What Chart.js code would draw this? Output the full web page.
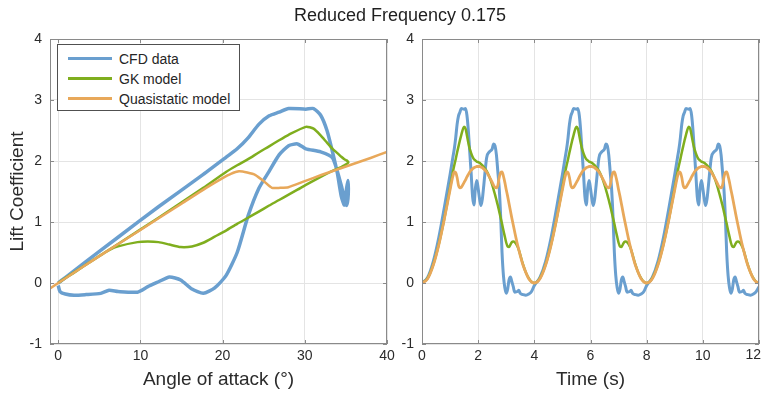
<!DOCTYPE html>
<html>
<head>
<meta charset="utf-8">
<title>Reduced Frequency 0.175</title>
<script src="https://cdn.jsdelivr.net/npm/chart.js@4.4.1/dist/chart.umd.min.js"></script>
<style>
  body { margin: 0; background: #fff; }
  #wrap { position: relative; width: 761px; height: 393px; font-family: "Liberation Sans", Arial, sans-serif; color: #262626; }
  #wrap canvas { position: absolute; left: 0; top: 0; }
  #title { position: absolute; left: 250px; width: 300px; top: 5px; line-height: 20px; font-size: 18px; text-align: center; color: #1f1f1f; }
  #legend { position: absolute; left: 57px; top: 44px; width: 181px; height: 65px; border: 1px solid #505050; background: #fff; font-size: 14px; }
  #legend .row { position: absolute; left: 0; height: 20px; line-height: 20px; white-space: nowrap; }
  #legend .swatch { position: absolute; left: 10px; top: 8px; width: 44px; height: 3px; }
  #legend .label { position: absolute; left: 61px; top: 0; }
</style>
</head>
<body>
<div id="wrap">
  <canvas id="aoaChart" width="761" height="393"></canvas>
  <canvas id="timeChart" width="761" height="393"></canvas>
  <div id="title">Reduced Frequency 0.175</div>
  <div id="legend"></div>
</div>
<script>
// Time series, three pitching cycles (s)
const timeS = [
    0, 0.2, 0.4, 0.6, 0.8, 1, 1.1, 1.15, 1.2, 1.25, 1.3, 1.35, 1.4, 1.5, 1.55, 1.6, 1.65, 1.7, 1.75, 1.8,
    1.85, 1.9, 1.95, 2, 2.05, 2.1, 2.15, 2.2, 2.3, 2.4, 2.5, 2.55, 2.6, 2.65, 2.7, 2.75, 2.8, 2.85, 2.9, 2.95,
    3, 3.05, 3.1, 3.15, 3.2, 3.25, 3.3, 3.4, 3.45, 3.5, 3.6, 3.7, 3.8, 3.9,
    4, 4.2, 4.4, 4.6, 4.8, 5, 5.1, 5.15, 5.2, 5.25, 5.3, 5.35, 5.4, 5.5, 5.55, 5.6, 5.65, 5.7, 5.75, 5.8,
    5.85, 5.9, 5.95, 6, 6.05, 6.1, 6.15, 6.2, 6.3, 6.4, 6.5, 6.55, 6.6, 6.65, 6.7, 6.75, 6.8, 6.85, 6.9, 6.95,
    7, 7.05, 7.1, 7.15, 7.2, 7.25, 7.3, 7.4, 7.45, 7.5, 7.6, 7.7, 7.8, 7.9,
    8, 8.2, 8.4, 8.6, 8.8, 9, 9.1, 9.15, 9.2, 9.25, 9.3, 9.35, 9.4, 9.5, 9.55, 9.6, 9.65, 9.7, 9.75, 9.8,
    9.85, 9.9, 9.95, 10, 10.05, 10.1, 10.15, 10.2, 10.3, 10.4, 10.5, 10.55, 10.6, 10.65, 10.7, 10.75, 10.8, 10.85, 10.9, 10.95,
    11, 11.05, 11.1, 11.15, 11.2, 11.25, 11.3, 11.4, 11.45, 11.5, 11.6, 11.7, 11.8, 11.9,
    12
];

const cfdCl = [
    0, 0.09, 0.35, 0.75, 1.25, 1.78, 2.06, 2.2, 2.38, 2.6, 2.74, 2.8, 2.86, 2.85, 2.86, 2.75, 2.5, 2.15, 1.8, 1.42,
    1.28, 1.55, 1.68, 1.55, 1.38, 1.27, 1.38, 1.6, 2.05, 2.15, 2.2, 2.28, 2.25, 2.1, 1.83, 1.55, 1.1, 0.5, 0.12, -0.08,
    -0.17, -0.1, 0.05, 0.1, 0.02, -0.06, -0.15, -0.14, -0.12, -0.17, -0.19, -0.2, -0.18, -0.14,
    -0.04, 0.09, 0.35, 0.75, 1.25, 1.78, 2.06, 2.2, 2.38, 2.6, 2.74, 2.8, 2.86, 2.85, 2.86, 2.75, 2.5, 2.15, 1.8, 1.42,
    1.28, 1.55, 1.68, 1.55, 1.38, 1.27, 1.38, 1.6, 2.05, 2.15, 2.2, 2.28, 2.25, 2.1, 1.83, 1.55, 1.1, 0.5, 0.12, -0.08,
    -0.17, -0.1, 0.05, 0.1, 0.02, -0.06, -0.15, -0.14, -0.12, -0.17, -0.19, -0.2, -0.18, -0.14,
    -0.04, 0.09, 0.35, 0.75, 1.25, 1.78, 2.06, 2.2, 2.38, 2.6, 2.74, 2.8, 2.86, 2.85, 2.86, 2.75, 2.5, 2.15, 1.8, 1.42,
    1.28, 1.55, 1.68, 1.55, 1.38, 1.27, 1.38, 1.6, 2.05, 2.15, 2.2, 2.28, 2.25, 2.1, 1.83, 1.55, 1.1, 0.5, 0.12, -0.08,
    -0.17, -0.1, 0.05, 0.1, 0.02, -0.06, -0.15, -0.14, -0.12, -0.17, -0.19, -0.2, -0.18, -0.14,
    -0.06
];

const gkCl = [
    0, 0.08, 0.3, 0.64, 1.07, 1.56, 1.82, 1.93, 2.03, 2.14, 2.24, 2.34, 2.43, 2.56, 2.53, 2.42, 2.3, 2.2, 2.13, 2.07,
    2.03, 2.01, 1.99, 1.98, 1.97, 1.95, 1.93, 1.9, 1.84, 1.74, 1.61, 1.53, 1.45, 1.36, 1.27, 1.17, 1.07, 0.97, 0.86, 0.76,
    0.66, 0.6, 0.59, 0.63, 0.67, 0.68, 0.67, 0.6, 0.54, 0.46, 0.3, 0.17, 0.08, 0.02,
    0, 0.08, 0.3, 0.64, 1.07, 1.56, 1.82, 1.93, 2.03, 2.14, 2.24, 2.34, 2.43, 2.56, 2.53, 2.42, 2.3, 2.2, 2.13, 2.07,
    2.03, 2.01, 1.99, 1.98, 1.97, 1.95, 1.93, 1.9, 1.84, 1.74, 1.61, 1.53, 1.45, 1.36, 1.27, 1.17, 1.07, 0.97, 0.86, 0.76,
    0.66, 0.6, 0.59, 0.63, 0.67, 0.68, 0.67, 0.6, 0.54, 0.46, 0.3, 0.17, 0.08, 0.02,
    0, 0.08, 0.3, 0.64, 1.07, 1.56, 1.82, 1.93, 2.03, 2.14, 2.24, 2.34, 2.43, 2.56, 2.53, 2.42, 2.3, 2.2, 2.13, 2.07,
    2.03, 2.01, 1.99, 1.98, 1.97, 1.95, 1.93, 1.9, 1.84, 1.74, 1.61, 1.53, 1.45, 1.36, 1.27, 1.17, 1.07, 0.97, 0.86, 0.76,
    0.66, 0.6, 0.59, 0.63, 0.67, 0.68, 0.67, 0.6, 0.54, 0.46, 0.3, 0.17, 0.08, 0.02,
    0
];

const qsCl = [
    0, 0.07, 0.29, 0.63, 1.06, 1.53, 1.75, 1.82, 1.81, 1.73, 1.6, 1.56, 1.57, 1.65, 1.69, 1.74, 1.78, 1.82, 1.85, 1.87,
    1.89, 1.9, 1.91, 1.91, 1.91, 1.9, 1.89, 1.87, 1.82, 1.74, 1.65, 1.6, 1.57, 1.56, 1.6, 1.73, 1.81, 1.82, 1.75, 1.65,
    1.53, 1.42, 1.3, 1.18, 1.06, 0.95, 0.84, 0.63, 0.54, 0.45, 0.29, 0.17, 0.07, 0.02,
    0, 0.07, 0.29, 0.63, 1.06, 1.53, 1.75, 1.82, 1.81, 1.73, 1.6, 1.56, 1.57, 1.65, 1.69, 1.74, 1.78, 1.82, 1.85, 1.87,
    1.89, 1.9, 1.91, 1.91, 1.91, 1.9, 1.89, 1.87, 1.82, 1.74, 1.65, 1.6, 1.57, 1.56, 1.6, 1.73, 1.81, 1.82, 1.75, 1.65,
    1.53, 1.42, 1.3, 1.18, 1.06, 0.95, 0.84, 0.63, 0.54, 0.45, 0.29, 0.17, 0.07, 0.02,
    0, 0.07, 0.29, 0.63, 1.06, 1.53, 1.75, 1.82, 1.81, 1.73, 1.6, 1.56, 1.57, 1.65, 1.69, 1.74, 1.78, 1.82, 1.85, 1.87,
    1.89, 1.9, 1.91, 1.91, 1.91, 1.9, 1.89, 1.87, 1.82, 1.74, 1.65, 1.6, 1.57, 1.56, 1.6, 1.73, 1.81, 1.82, 1.75, 1.65,
    1.53, 1.42, 1.3, 1.18, 1.06, 0.95, 0.84, 0.63, 0.54, 0.45, 0.29, 0.17, 0.07, 0.02,
    0
];

// Angle of attack over the first cycle (deg), same samples as timeS 0..4
const aoaDeg = [
    0, 0.86, 3.37, 7.28, 12.2, 17.65, 20.41, 21.77, 23.1, 24.4, 25.66, 26.87, 28.03, 30.13, 31.07, 31.93, 32.7, 33.37, 33.96, 34.44,
    34.81, 35.08, 35.25, 35.3, 35.25, 35.08, 34.81, 34.44, 33.37, 31.93, 30.13, 29.11, 28.03, 26.87, 25.66, 24.4, 23.1, 21.77, 20.41, 19.04,
    17.65, 16.27, 14.89, 13.53, 12.2, 10.9, 9.64, 7.28, 6.19, 5.17, 3.37, 1.94, 0.86, 0.22,
    0
];

// Static lift curve used by the quasistatic model
const staticAoa = [-1, 0, 5, 10, 15, 18, 20, 21, 22, 23, 24, 25, 26, 27, 28, 30, 32, 35, 38, 40];
const staticCl = [-0.09, 0, 0.44, 0.87, 1.3, 1.56, 1.72, 1.79, 1.83, 1.81, 1.77, 1.67, 1.56, 1.56, 1.57, 1.67, 1.77, 1.91, 2.05, 2.15];

const seriesNames = ['CFD data', 'GK model', 'Quasistatic model'];
const seriesColors = ['#6a9fcf', '#7fae1e', '#e8a85a'];

const aoaTicks = [0, 10, 20, 30, 40];
const timeTicks = [0, 2, 4, 6, 8, 10, 12];
const clTicks = [-1, 0, 1, 2, 3, 4];

const FONT = '"Liberation Sans", Arial, sans-serif';
const TEXT = '#2b2b2b';


function pairs(xs, ys) {
    return xs.map((x, i) => ({ x: x, y: ys[i] }));
}


// MATLAB style box with inward ticks
const boxPlugin = {
    id: 'box',
    afterDatasetsDraw(chart) {
        const { ctx, chartArea: a, scales } = chart;
        ctx.save();
        ctx.strokeStyle = '#8a8a8a';
        ctx.lineWidth = 1;
        ctx.strokeRect(a.left + 0.5, a.top + 0.5, a.right - a.left - 1, a.bottom - a.top - 1);
        ctx.beginPath();
        for (const t of scales.x.ticks) {
            const px = Math.round(scales.x.getPixelForValue(t.value)) + 0.5;
            ctx.moveTo(px, a.bottom); ctx.lineTo(px, a.bottom - 4);
            ctx.moveTo(px, a.top); ctx.lineTo(px, a.top + 4);
        }
        for (const t of scales.y.ticks) {
            const py = Math.round(scales.y.getPixelForValue(t.value)) + 0.5;
            ctx.moveTo(a.left, py); ctx.lineTo(a.left + 4, py);
            ctx.moveTo(a.right, py); ctx.lineTo(a.right - 4, py);
        }
        ctx.stroke();
        ctx.restore();
    }
};

// The last time label sits at the window edge, so it is drawn right aligned
const edgeLabelPlugin = {
    id: 'edgeLabel',
    afterDraw(chart) {
        const { ctx, chartArea: a } = chart;
        const last = timeTicks[timeTicks.length - 1];
        ctx.save();
        ctx.fillStyle = TEXT;
        ctx.font = '14px ' + FONT;
        ctx.textAlign = 'right';
        ctx.textBaseline = 'top';
        ctx.fillText(String(last), 761, a.bottom + 4);
        ctx.restore();
    }
};


function axisOptions(min, max, tickValues, titleText, horizontal, hideLast) {
    const lastTick = tickValues[tickValues.length - 1];
    return {
        type: 'linear',
        min: min,
        max: max,
        afterBuildTicks: s => { s.ticks = tickValues.map(v => ({ value: v })); },
        afterFit: s => {
            if (horizontal) {
                s.height = 49;
                s.paddingLeft = 0;
                s.paddingRight = 0;
            } else {
                s.width = 50;
                s.paddingTop = 0;
                s.paddingBottom = 0;
            }
        },
        grid: { color: '#e4e4e4', lineWidth: 1, drawTicks: false },
        border: { display: false },
        ticks: {
            color: TEXT,
            padding: horizontal ? 4 : 8,
            font: { family: FONT, size: 14 },
            callback: v => (hideLast && v === lastTick) ? '' : String(v)
        },
        title: {
            display: !!titleText,
            text: titleText,
            color: TEXT,
            font: { family: FONT, size: 19 },
            padding: horizontal ? { top: 0, bottom: 2 } : { top: 6, bottom: 0 }
        }
    };
}


function lineSet(idx, data, width, extra) {
    return Object.assign({
        label: seriesNames[idx],
        data: data,
        showLine: true,
        borderColor: seriesColors[idx],
        backgroundColor: seriesColors[idx],
        borderWidth: width,
        pointRadius: 0,
        fill: false,
        order: 3 - idx
    }, extra);
}


function baseOptions(padding, xAxis, yAxis) {
    return {
        responsive: false,
        animation: false,
        events: [],
        layout: { padding: padding },
        plugins: { legend: { display: false }, tooltip: { enabled: false } },
        scales: { x: xAxis, y: yAxis }
    };
}


// Left panel: lift coefficient against angle of attack
const loopLen = aoaDeg.length;
new Chart(document.getElementById('aoaChart').getContext('2d'), {
    type: 'scatter',
    data: {
        datasets: [
            lineSet(0, pairs(aoaDeg, cfdCl.slice(0, loopLen)), 3.5, { tension: 0.2 }),
            lineSet(1, pairs(aoaDeg, gkCl.slice(0, loopLen)), 2.5, { tension: 0.2 }),
            lineSet(2, pairs(staticAoa, staticCl), 2.5, { tension: 0.2 })
        ]
    },
    options: baseOptions(
        { left: 0, top: 39, right: 374, bottom: 0 },
        axisOptions(-1, 40, aoaTicks, 'Angle of attack (°)', true, false),
        axisOptions(-1, 4, clTicks, 'Lift Coefficient', false, false)
    ),
    plugins: [boxPlugin]
});

// Right panel: lift coefficient against time
new Chart(document.getElementById('timeChart').getContext('2d'), {
    type: 'scatter',
    data: {
        datasets: [
            lineSet(0, pairs(timeS, cfdCl), 3, { cubicInterpolationMode: 'monotone' }),
            lineSet(1, pairs(timeS, gkCl), 2.5, { cubicInterpolationMode: 'monotone' }),
            lineSet(2, pairs(timeS, qsCl), 2.8, { cubicInterpolationMode: 'monotone' })
        ]
    },
    options: baseOptions(
        { left: 372, top: 39, right: 2, bottom: 0 },
        axisOptions(0, 12, timeTicks, 'Time (s)', true, true),
        axisOptions(-1, 4, clTicks, '', false, false)
    ),
    plugins: [boxPlugin, edgeLabelPlugin]
});

// Legend inside the left panel
const legend = document.getElementById('legend');
seriesNames.forEach((name, i) => {
    const row = document.createElement('div');
    row.className = 'row';
    row.style.top = (4 + i * 20) + 'px';
    row.style.width = '100%';
    row.innerHTML = '<span class="swatch" style="background:' + seriesColors[i] + '"></span>' +
        '<span class="label">' + name + '</span>';
    legend.appendChild(row);
});
</script>
</body>
</html>
